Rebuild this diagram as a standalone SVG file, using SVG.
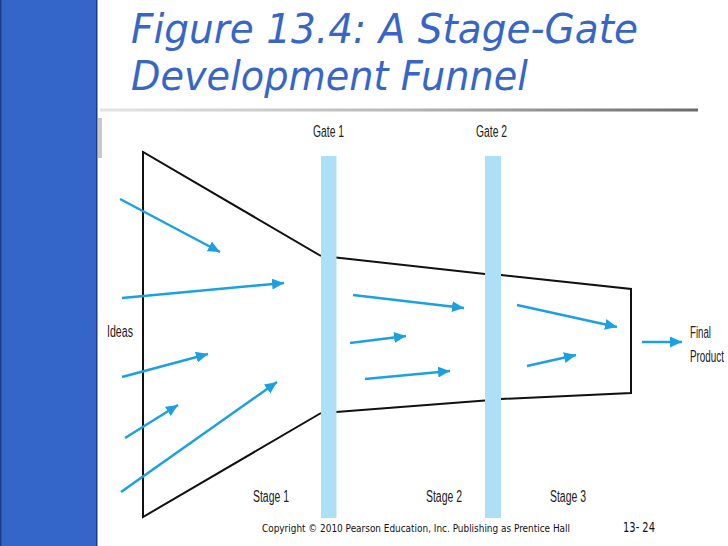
<svg xmlns="http://www.w3.org/2000/svg" width="728" height="546" viewBox="0 0 728 546">
<defs>
<linearGradient id="rule" x1="0" y1="0" x2="1" y2="0">
<stop offset="0" stop-color="#e4e4e4"/>
<stop offset="0.5" stop-color="#b8b8b8"/>
<stop offset="1" stop-color="#6a6a6a"/>
</linearGradient>
<marker id="ah" markerUnits="userSpaceOnUse" markerWidth="13" markerHeight="11" refX="12" refY="5.5" orient="auto">
<path d="M0,0 L12,5.5 L0,11 Z" fill="#1ba1e2"/>
</marker>
<style>
.title{font-family:"DejaVu Sans","Liberation Sans",sans-serif;font-style:italic;font-size:41px;fill:#3766c6}
.lbl{font-family:"Liberation Sans Narrow","Liberation Sans",sans-serif;font-size:16px;fill:#222}
.foot{font-family:"DejaVu Sans","Liberation Sans",sans-serif;font-size:10.5px;fill:#111}
.gate{fill:#ade0f6}
.funnel{fill:none;stroke:#111;stroke-width:2}
.arr{stroke:#1ba1e2;stroke-width:2.5;fill:none;marker-end:url(#ah)}
</style>
</defs>
<rect width="728" height="546" fill="#fff"/>
<g id="sidebar">
<rect x="0" y="0" width="97" height="546" fill="#3465c8"/>
<rect x="0" y="0" width="1.5" height="546" fill="#1f3a8a"/>
<rect x="96" y="0" width="1.5" height="546" fill="#1f3a8a"/>
<rect x="98" y="118" width="4" height="40" fill="#c8c8c8"/>
</g>
<g id="title">
<text class="title" x="131" y="43" textLength="507" lengthAdjust="spacingAndGlyphs">Figure 13.4: A Stage-Gate</text>
<text class="title" x="131" y="90" textLength="397" lengthAdjust="spacingAndGlyphs">Development Funnel</text>
<rect x="100" y="108.5" width="598" height="3" fill="url(#rule)"/>
</g>
<g id="funnel">
<polyline class="funnel" points="321,256 143,152 143,517 321,413"/>
<polyline class="funnel" points="336,257.5 485,274 501,275 631,289 631,393 501,399 485,400.5 336,412"/>
</g>
<g id="gate1">
<rect class="gate" x="321" y="156" width="15.5" height="362"/>
<text class="lbl" x="313" y="137" textLength="31" lengthAdjust="spacingAndGlyphs">Gate 1</text>
</g>
<g id="gate2">
<rect class="gate" x="485" y="156" width="16" height="362"/>
<text class="lbl" x="476" y="137" textLength="31" lengthAdjust="spacingAndGlyphs">Gate 2</text>
</g>
<g id="labels">
<text class="lbl" id="ideas" x="107" y="337" textLength="26" lengthAdjust="spacingAndGlyphs">Ideas</text>
<text class="lbl" id="stage1" x="253" y="502" textLength="36" lengthAdjust="spacingAndGlyphs">Stage 1</text>
<text class="lbl" id="stage2" x="426" y="502" textLength="36" lengthAdjust="spacingAndGlyphs">Stage 2</text>
<text class="lbl" id="stage3" x="550" y="502" textLength="36" lengthAdjust="spacingAndGlyphs">Stage 3</text>
<g id="final">
<text class="lbl" x="690" y="338" textLength="21" lengthAdjust="spacingAndGlyphs">Final</text>
<text class="lbl" x="690" y="362" textLength="34" lengthAdjust="spacingAndGlyphs">Product</text>
</g>
</g>
<g id="connectors">
<line class="arr" x1="120" y1="199" x2="220" y2="252"/>
<line class="arr" x1="122" y1="298" x2="284" y2="283"/>
<line class="arr" x1="122" y1="377" x2="208" y2="354"/>
<line class="arr" x1="125" y1="438" x2="178" y2="405"/>
<line class="arr" x1="121" y1="492" x2="277" y2="382"/>
<line class="arr" x1="353" y1="295" x2="464" y2="308"/>
<line class="arr" x1="350" y1="343" x2="406" y2="336"/>
<line class="arr" x1="365" y1="379" x2="450" y2="371"/>
<line class="arr" x1="517" y1="305" x2="617" y2="327"/>
<line class="arr" x1="527" y1="366" x2="576" y2="355"/>
<line class="arr" x1="642" y1="342" x2="682" y2="342"/>
</g>
<g id="footer">
<text class="foot" x="262" y="532" textLength="308" lengthAdjust="spacingAndGlyphs">Copyright © 2010 Pearson Education, Inc. Publishing as Prentice Hall</text>
<text class="foot" x="623" y="532" style="font-size:14px" textLength="32" lengthAdjust="spacingAndGlyphs">13- 24</text>
</g>
</svg>
